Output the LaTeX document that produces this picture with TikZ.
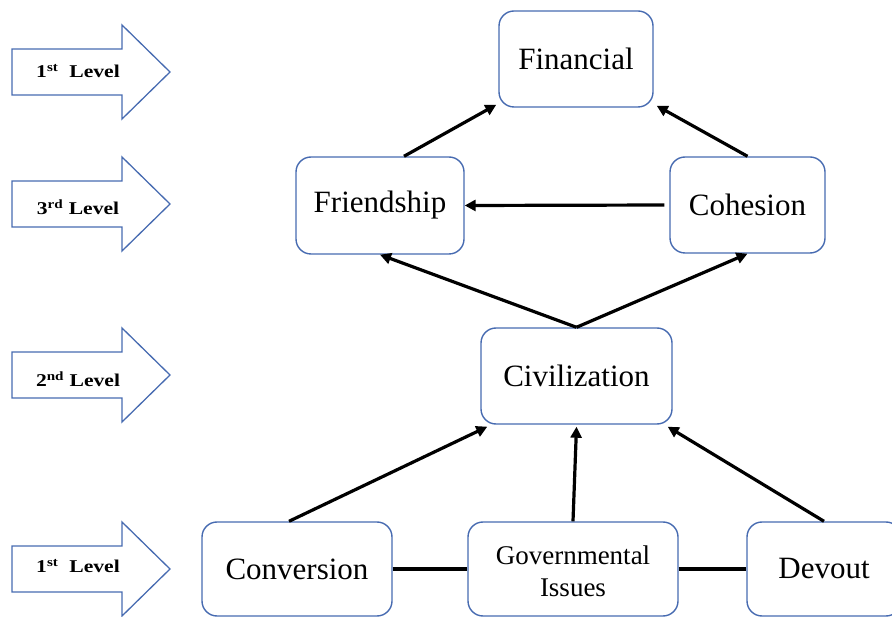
\documentclass[tikz,border=0pt]{standalone}
\usepackage{fontspec}
\setmainfont{Liberation Serif}
\usepackage{graphicx}
\usetikzlibrary{arrows.meta,calc}
\definecolor{boxblue}{RGB}{71,107,177}
\begin{document}
\begin{tikzpicture}[x=1pt,y=-1pt,
  box/.style={draw=boxblue, line width=1.4pt, rounded corners=15pt, fill=white,
    align=center, inner sep=0pt, font=\fontsize{31}{34}\selectfont},
  link/.style={line width=3.2pt, draw=black},
  flow/.style={link, -{Triangle[length=11pt,width=11pt]}},
  lvlarrow/.style={draw=boxblue, line width=1.3pt, fill=white},
  lvltext/.style={font=\fontsize{18}{20}\selectfont\bfseries, inner sep=0pt}
]
\useasboundingbox (0,0) rectangle (892,617);
\clip (0,0) rectangle (892,617);

% level markers on the left
\foreach \cy/\ty/\nm/\lbl in {72/71/lvlA/{1\textsuperscript{st}~ Level},
                             204/207/lvlB/{3\textsuperscript{rd} Level},
                             375/379/lvlC/{2\textsuperscript{nd} Level},
                             569/566/lvlD/{1\textsuperscript{st}~ Level}}{
  \draw[lvlarrow] (12,\cy-23) -- (122,\cy-23) -- (122,\cy-47) -- (170,\cy)
    -- (122,\cy+47) -- (122,\cy+23) -- (12,\cy+23) -- cycle;
  \node[lvltext] (\nm) at (78,\ty) {\scalebox{1.2}[1]{\lbl}};
}

% concept boxes
\node[box, minimum width=154pt, minimum height=96pt] (fin) at (576,59) {Financial};
\node[box, minimum width=168pt, minimum height=97pt] (fri) at (380,205.5) {Friendship};
\node[box, minimum width=155pt, minimum height=96pt] (coh) at (747.5,205) {Cohesion};
\node[box, minimum width=191pt, minimum height=96pt] (civ) at (576.5,376) {Civilization};
\node[box, minimum width=190pt, minimum height=94pt] (con) at (297,569) {Conversion};
\node[box, minimum width=210pt, minimum height=94pt,
      font=\fontsize{27}{32}\selectfont] (gov) at (573,569)
      {\rule{0pt}{24pt}Governmental\\Issues};
\node[box, minimum width=154pt, minimum height=94pt] (dev) at (824,569) {Devout};

% relations
\draw[flow] ($(fri.north)+(24,0)$) -- ($(fin.south west)+(-2,-3)$);
\draw[flow] (coh.north) -- ($(fin.south east)+(3,-2)$);
\draw[flow, shorten <=5pt] (coh.west) -- (fri.east);
\draw[flow] (civ.north) -- (fri.south);
\draw[flow] (civ.north) -- (coh.south);
\draw[flow] ($(con.north)+(-8,0)$) -- ($(civ.south west)+(7,2)$);
\draw[flow] (gov.north) -- ($(civ.south)+(0,2)$);
\draw[flow] (dev.north) -- ($(civ.south east)+(-5,2)$);
\draw[link] (con.east) -- (gov.west);
\draw[link] (gov.east) -- (dev.west);
\end{tikzpicture}
\end{document}
